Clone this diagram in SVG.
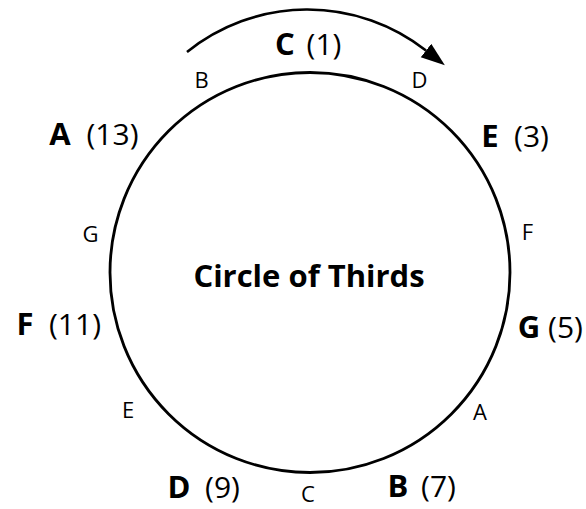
<svg xmlns="http://www.w3.org/2000/svg" width="586" height="509" viewBox="0 0 586 509">
<style>
text{font-family:"Open Sans","Noto Sans","DejaVu Sans",sans-serif;fill:#000;text-anchor:middle}
.big{font-size:31px;font-weight:bold}
.num{font-size:30px}
.sm{font-size:22px}
.title{font-size:31px;font-weight:bold}
.ring{fill:none;stroke:#000;stroke-width:2.8}
.conn{fill:none;stroke:#000;stroke-width:2.6}
</style>
<defs>
<marker id="ah" markerUnits="userSpaceOnUse" markerWidth="26" markerHeight="18" refX="0" refY="8.5" orient="auto">
<path d="M0,0 L24,8.5 L0,17 z" fill="#000"/>
</marker>
</defs>
<g id="circle"><circle class="ring" cx="310" cy="272.5" r="200"/></g>
<g id="title"><text class="title" x="309" y="287">Circle of Thirds</text></g>
<g id="connectors"><path class="conn" d="M187,52 A192,192 0 0 1 426,50.5" marker-end="url(#ah)"/></g>
<g id="node-C1"><text class="big" x="285" y="55">C</text><text class="num" x="324" y="55">(1)</text></g>
<g id="note-B-top"><text class="sm" x="201.5" y="88">B</text></g>
<g id="note-D-top"><text class="sm" x="419.5" y="88">D</text></g>
<g id="node-A13"><text class="big" x="60" y="145">A</text><text class="num" x="112.5" y="145">(13)</text></g>
<g id="node-E3"><text class="big" x="490" y="147">E</text><text class="num" x="531.5" y="147">(3)</text></g>
<g id="note-G-left"><text class="sm" x="90.5" y="242">G</text></g>
<g id="note-F-right"><text class="sm" x="527.5" y="240">F</text></g>
<g id="node-F11"><text class="big" x="25" y="335">F</text><text class="num" x="75" y="335">(11)</text></g>
<g id="node-G5"><text class="big" x="529" y="338">G</text><text class="num" x="565.5" y="338">(5)</text></g>
<g id="note-E-left"><text class="sm" x="128" y="418">E</text></g>
<g id="note-A-right"><text class="sm" x="480" y="420">A</text></g>
<g id="node-D9"><text class="big" x="179" y="498">D</text><text class="num" x="222.5" y="498">(9)</text></g>
<g id="note-C-bottom"><text class="sm" x="308" y="502">C</text></g>
<g id="node-B7"><text class="big" x="398" y="497">B</text><text class="num" x="438.5" y="497">(7)</text></g>
</svg>
